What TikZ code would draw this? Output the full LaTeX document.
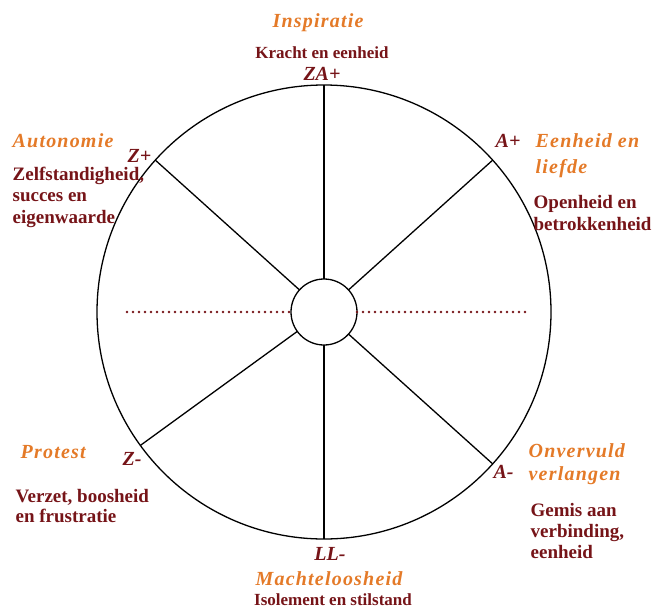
\documentclass[tikz,border=0pt]{standalone}
\usepackage{fontspec}
\setmainfont{Liberation Serif}
\newfontfamily\titelfont[LetterSpace=6]{Liberation Serif}
\definecolor{oranje}{RGB}{228,122,40}
\definecolor{bruinrood}{RGB}{118,20,24}
\tikzset{
  titel/.style={text=oranje, font=\titelfont\bfseries\itshape\fontsize{20}{24}\selectfont, inner sep=0pt, align=left},
  pool/.style={text=bruinrood, font=\bfseries\itshape\fontsize{20}{22}\selectfont, inner sep=0pt},
  uitleg/.style={text=bruinrood, font=\bfseries\fontsize{19}{21.5}\selectfont, inner sep=0pt, align=left},
  kop/.style={text=bruinrood, font=\bfseries\fontsize{17}{20}\selectfont, inner sep=0pt},
  stip/.style={bruinrood, line width=2.6pt, dash pattern=on 0pt off 6pt, line cap=round},
}
\begin{document}
\begin{tikzpicture}[x=1pt,y=-1pt,line width=1.3pt]
	\useasboundingbox (0,0) rectangle (652,610);
	\def\mx{324} \def\my{312}
	\node[circle,draw,minimum size=454pt,inner sep=0pt,outer sep=0pt] (rand) at (\mx,\my) {};
	\node[circle,draw,minimum size=66pt,inner sep=0pt,outer sep=0pt] (kern) at (\mx,\my) {};
	\foreach \a in {90,42,138,216,270,318}
		\draw (kern.\a) -- (rand.\a);
	% dotted axis
	\coordinate (links) at (127,\my);
	\coordinate (rechts) at (527,\my);
	\draw[stip] (links) -- (kern.west);
	\draw[stip] (kern.east) -- (rechts);
	% top
	\node[titel, anchor=base] (inspiratie) at (318,28) {Inspiratie};
	\node[kop, anchor=base] (kracht) at (322,58) {Kracht en eenheid};
	\node[pool, anchor=base] (zaplus) at (322,80) {ZA+};
	% upper left
	\node[titel, anchor=base west] (autonomie) at (12,147) {Autonomie};
	\node[pool, anchor=base west] (zplus) at (127,162) {Z+};
	\node[uitleg, anchor=base west] (zelf) at (12,223) {Zelfstandigheid,\\succes en\\eigenwaarde};
	% upper right
	\node[pool, anchor=base west] (aplus) at (495,147) {A+};
	\node[titel, anchor=base west, font=\titelfont\bfseries\itshape\fontsize{20}{26}\selectfont] (eenheid) at (535,173) {Eenheid en\\liefde};
	\node[uitleg, anchor=base west, font=\bfseries\fontsize{19}{22}\selectfont] (open) at (533,230) {Openheid en\\betrokkenheid};
	% lower left
	\node[titel, anchor=base west] (protest) at (20,458) {Protest};
	\node[pool, anchor=base west] (zmin) at (122,465) {Z-};
	\node[uitleg, anchor=base west, font=\bfseries\fontsize{19}{19.5}\selectfont] (verzet) at (15,522) {Verzet, boosheid\\en frustratie};
	% lower right
	\node[pool, anchor=base west] (amin) at (493,478) {A-};
	\node[titel, anchor=base west, font=\titelfont\bfseries\itshape\fontsize{20}{23}\selectfont] (onvervuld) at (528,480) {Onvervuld\\verlangen};
	\node[uitleg, anchor=base west, font=\bfseries\fontsize{19}{21}\selectfont] (gemis) at (530,558) {Gemis aan\\verbinding,\\eenheid};
	% bottom
	\node[pool, anchor=base] (llmin) at (330,560) {LL-};
	\node[titel, anchor=base] (macht) at (329,585) {Machteloosheid};
	\node[kop, anchor=base] (isolement) at (333,605) {Isolement en stilstand};
\end{tikzpicture}
\end{document}
